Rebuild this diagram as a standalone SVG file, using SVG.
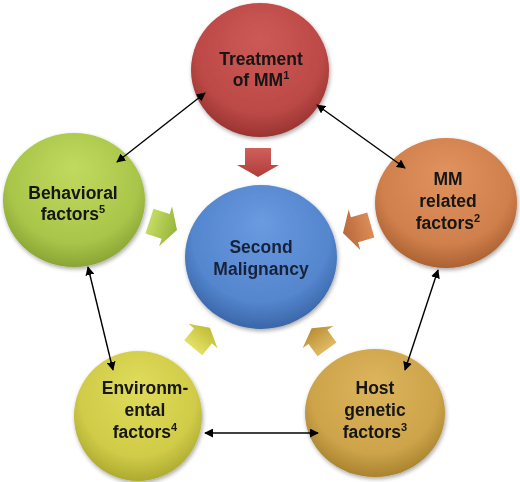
<svg xmlns="http://www.w3.org/2000/svg" width="520" height="482" viewBox="0 0 520 482">
<defs>
<radialGradient id="gRed" cx="50%" cy="40%" r="60%" fx="50%" fy="25%"><stop offset="0" stop-color="#cc5a57"/><stop offset="0.75" stop-color="#bd4a47"/><stop offset="1" stop-color="#9a3431"/></radialGradient>
<radialGradient id="gGreen" cx="50%" cy="40%" r="60%" fx="50%" fy="25%"><stop offset="0" stop-color="#c0da5e"/><stop offset="0.75" stop-color="#aac64a"/><stop offset="1" stop-color="#8aa534"/></radialGradient>
<radialGradient id="gOrange" cx="50%" cy="40%" r="60%" fx="50%" fy="25%"><stop offset="0" stop-color="#e0925e"/><stop offset="0.75" stop-color="#d0804c"/><stop offset="1" stop-color="#ac6232"/></radialGradient>
<radialGradient id="gYellow" cx="50%" cy="40%" r="60%" fx="50%" fy="25%"><stop offset="0" stop-color="#e0dc5c"/><stop offset="0.75" stop-color="#d0cc48"/><stop offset="1" stop-color="#aeaa30"/></radialGradient>
<radialGradient id="gHost" cx="50%" cy="40%" r="60%" fx="50%" fy="25%"><stop offset="0" stop-color="#dcb45c"/><stop offset="0.75" stop-color="#cda44a"/><stop offset="1" stop-color="#a9832e"/></radialGradient>
<radialGradient id="gBlue" cx="50%" cy="40%" r="60%" fx="50%" fy="25%"><stop offset="0" stop-color="#6a9ae0"/><stop offset="0.75" stop-color="#5486ce"/><stop offset="1" stop-color="#3a66a8"/></radialGradient>
<linearGradient id="aRed" x1="0" y1="0" x2="1" y2="0"><stop offset="0" stop-color="#d0605c"/><stop offset="1" stop-color="#b03c38"/></linearGradient>
<linearGradient id="aGreen" x1="0" y1="0" x2="1" y2="0"><stop offset="0" stop-color="#c4dc64"/><stop offset="1" stop-color="#98b43a"/></linearGradient>
<linearGradient id="aOrange" x1="0" y1="0" x2="1" y2="0"><stop offset="0" stop-color="#dc8c58"/><stop offset="1" stop-color="#b8683a"/></linearGradient>
<linearGradient id="aYellow" x1="0" y1="0" x2="1" y2="0"><stop offset="0" stop-color="#e4e064"/><stop offset="1" stop-color="#c0bc38"/></linearGradient>
<linearGradient id="aHost" x1="0" y1="0" x2="1" y2="0"><stop offset="0" stop-color="#e0ba62"/><stop offset="1" stop-color="#b88e36"/></linearGradient>
<filter id="sh" x="-20%" y="-20%" width="140%" height="140%"><feGaussianBlur in="SourceAlpha" stdDeviation="2"/><feOffset dx="1" dy="2" result="b"/><feComponentTransfer><feFuncA type="linear" slope="0.35"/></feComponentTransfer><feMerge><feMergeNode/><feMergeNode in="SourceGraphic"/></feMerge></filter>
<marker id="ah" viewBox="0 0 10 10" refX="9" refY="5" markerWidth="9" markerHeight="9" markerUnits="userSpaceOnUse" orient="auto-start-reverse"><path d="M0,0 L10,5 L0,10 Z" fill="#000"/></marker>
<path id="blk" d="M-17,-13 L0,-13 L0,-21 L12,0 L0,21 L0,13 L-17,13 Z"/>
</defs>
<style>
.lbl{font-family:"Liberation Sans",Arial,sans-serif;font-weight:bold;font-size:17.5px;text-anchor:middle;fill:#141414}
.blue{fill:#17233a}
.sup{font-size:11px}
.con{stroke:#000;stroke-width:1.4;fill:none;marker-start:url(#ah);marker-end:url(#ah)}
</style>
<rect width="520" height="482" fill="#fff"/>

<g id="blockarrows">
<use href="#blk" fill="url(#aRed)" transform="translate(258,165) rotate(90)"/>
<use href="#blk" fill="url(#aGreen)" transform="translate(165.6,226.3) rotate(18)"/>
<use href="#blk" fill="url(#aOrange)" transform="translate(354.5,229.7) rotate(164)"/>
<use href="#blk" fill="url(#aYellow)" transform="translate(203,336) rotate(-50) scale(0.9)"/>
<use href="#blk" fill="url(#aHost)" transform="translate(318,337) rotate(-126) scale(0.9)"/>
</g>

<g id="n-treatment" filter="url(#sh)">
<ellipse cx="260" cy="70" rx="69" ry="67" fill="url(#gRed)"/>
<text class="lbl" x="261" y="65">Treatment</text>
<text class="lbl" x="261" y="86">of MM<tspan class="sup" dy="-7">1</tspan></text>
</g>
<g id="n-behavioral" filter="url(#sh)">
<ellipse cx="74" cy="200" rx="71" ry="67" fill="url(#gGreen)"/>
<text class="lbl" x="73" y="199">Behavioral</text>
<text class="lbl" x="73" y="220">factors<tspan class="sup" dy="-7">5</tspan></text>
</g>
<g id="n-mm" filter="url(#sh)">
<ellipse cx="446" cy="203" rx="71" ry="65" fill="url(#gOrange)"/>
<text class="lbl" x="448" y="185">MM</text>
<text class="lbl" x="448" y="207">related</text>
<text class="lbl" x="448" y="229">factors<tspan class="sup" dy="-7">2</tspan></text>
</g>
<g id="n-env" filter="url(#sh)">
<ellipse cx="138" cy="416" rx="64" ry="65" fill="url(#gYellow)"/>
<text class="lbl" x="145" y="394">Environm-</text>
<text class="lbl" x="145" y="416">ental</text>
<text class="lbl" x="145" y="438">factors<tspan class="sup" dy="-7">4</tspan></text>
</g>
<g id="n-host" filter="url(#sh)">
<ellipse cx="375" cy="413" rx="70" ry="64" fill="url(#gHost)"/>
<text class="lbl" x="375" y="394">Host</text>
<text class="lbl" x="375" y="416">genetic</text>
<text class="lbl" x="375" y="438">factors<tspan class="sup" dy="-7">3</tspan></text>
</g>
<g id="n-second" filter="url(#sh)">
<ellipse cx="261" cy="257" rx="76" ry="72" fill="url(#gBlue)"/>
<text class="lbl blue" x="261" y="253">Second</text>
<text class="lbl blue" x="261" y="275">Malignancy</text>
</g>

<g id="connectors">
<line class="con" x1="117" y1="162" x2="205" y2="93"/>
<line class="con" x1="317" y1="105" x2="405" y2="168"/>
<line class="con" x1="88" y1="267" x2="113" y2="370"/>
<line class="con" x1="205" y1="433" x2="318" y2="433"/>
<line class="con" x1="405" y1="370" x2="438" y2="270"/>
</g>
</svg>
